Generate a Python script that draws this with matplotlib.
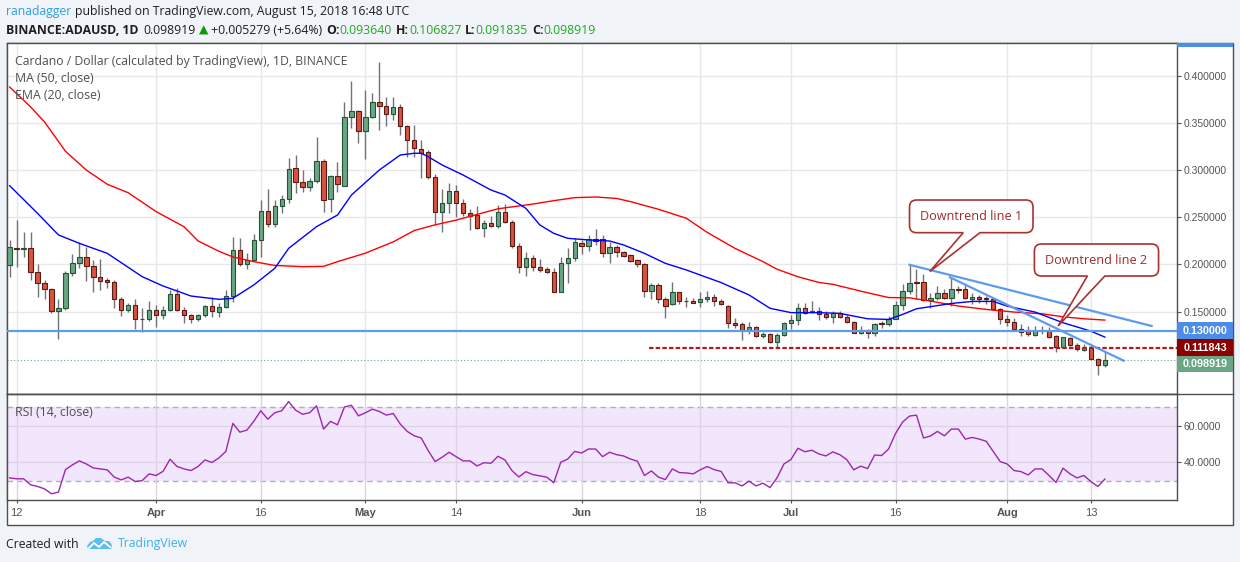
import matplotlib
matplotlib.use("Agg")
import matplotlib.pyplot as plt
import matplotlib.dates as mdates
from matplotlib.patches import Rectangle, PathPatch, Polygon
from matplotlib.path import Path
from matplotlib.lines import Line2D
from matplotlib.transforms import IdentityTransform
import numpy as np
import pandas as pd

plt.rcParams['font.family'] = ['Open Sans', 'DejaVu Sans']

W, H = 1240, 562

# BINANCE:ADAUSD daily candles, 2018-03-11 .. 2018-08-15
dates = pd.date_range("2018-03-11", "2018-08-15", freq="D")
opens = [0.1998, 0.2175, 0.2168, 0.2171, 0.1917, 0.1801, 0.1737, 0.1504, 0.1536, 0.1906,
         0.2012, 0.2076, 0.1981, 0.1864, 0.1836, 0.1811, 0.1631, 0.1518, 0.1568, 0.1419,
         0.1419, 0.1515, 0.1462, 0.1518, 0.1684, 0.1518, 0.1462, 0.1419, 0.1462, 0.1557,
         0.1501, 0.1550, 0.1666, 0.2154, 0.2002, 0.2048, 0.2260, 0.2567, 0.2426, 0.2620,
         0.2694, 0.3019, 0.2870, 0.2817, 0.2885, 0.3096, 0.2690, 0.2938, 0.2835, 0.3559,
         0.3623, 0.3411, 0.3559, 0.3718, 0.3679, 0.3591, 0.3665, 0.3467, 0.3315, 0.3224,
         0.3188, 0.2924, 0.2560, 0.2648, 0.2775, 0.2655, 0.2542, 0.2524, 0.2390, 0.2436,
         0.2412, 0.2553, 0.2454, 0.2200, 0.1977, 0.2065, 0.1970, 0.1949, 0.1917, 0.1712,
         0.2012, 0.2065, 0.2228, 0.2200, 0.2267, 0.2267, 0.2118, 0.2182, 0.2136, 0.2097,
         0.2044, 0.2002, 0.1723, 0.1780, 0.1631, 0.1578, 0.1705, 0.1611, 0.1613, 0.1599,
         0.1631, 0.1659, 0.1613, 0.1564, 0.1377, 0.1366, 0.1306, 0.1341, 0.1243, 0.1260,
         0.1176, 0.1250, 0.1377, 0.1412, 0.1536, 0.1497, 0.1511, 0.1471, 0.1446, 0.1482,
         0.1446, 0.1390, 0.1277, 0.1308, 0.1270, 0.1379, 0.1365, 0.1425, 0.1566, 0.1718,
         0.1817, 0.1817, 0.1623, 0.1644, 0.1693, 0.1647, 0.1736, 0.1736, 0.1637, 0.1658,
         0.1647, 0.1630, 0.1531, 0.1418, 0.1390, 0.1312, 0.1298, 0.1255, 0.1294, 0.1298,
         0.1241, 0.1128, 0.1217, 0.1146, 0.1097, 0.1118, 0.1001, 0.09364]
highs = [0.2260, 0.2471, 0.2341, 0.2341, 0.2005, 0.1836, 0.1748, 0.1635, 0.1935, 0.2108,
         0.2242, 0.2189, 0.2048, 0.2055, 0.1854, 0.1836, 0.1652, 0.1589, 0.1635, 0.1536,
         0.1610, 0.1571, 0.1561, 0.1730, 0.1755, 0.1554, 0.1476, 0.1476, 0.1571, 0.1659,
         0.1596, 0.1730, 0.2288, 0.2277, 0.2118, 0.2323, 0.2683, 0.2796, 0.2683, 0.2736,
         0.3125, 0.3160, 0.3001, 0.2913, 0.3347, 0.3114, 0.2948, 0.3082, 0.3718, 0.3947,
         0.3637, 0.3848, 0.3813, 0.4142, 0.3778, 0.3778, 0.3700, 0.3478, 0.3478, 0.3319,
         0.3213, 0.2955, 0.2800, 0.2860, 0.2842, 0.2690, 0.2585, 0.2620, 0.2471, 0.2514,
         0.2630, 0.2641, 0.2471, 0.2224, 0.2133, 0.2101, 0.2055, 0.1977, 0.1959, 0.2083,
         0.2171, 0.2284, 0.2260, 0.2313, 0.2376, 0.2313, 0.2242, 0.2207, 0.2147, 0.2111,
         0.2055, 0.2012, 0.1808, 0.1801, 0.1659, 0.1818, 0.1705, 0.1659, 0.1642, 0.1705,
         0.1719, 0.1684, 0.1638, 0.1571, 0.1430, 0.1395, 0.1395, 0.1349, 0.1289, 0.1271,
         0.1278, 0.1388, 0.1465, 0.1589, 0.1596, 0.1617, 0.1550, 0.1506, 0.1503, 0.1503,
         0.1460, 0.1400, 0.1347, 0.1319, 0.1383, 0.1400, 0.1453, 0.1612, 0.1796, 0.1997,
         0.1948, 0.1895, 0.1700, 0.1771, 0.1736, 0.1870, 0.1771, 0.1796, 0.1700, 0.1672,
         0.1665, 0.1647, 0.1541, 0.1460, 0.1436, 0.1365, 0.1347, 0.1347, 0.1347, 0.1343,
         0.1248, 0.1227, 0.1231, 0.1171, 0.1153, 0.1153, 0.1012, 0.106827]
lows = [0.1871, 0.1977, 0.2083, 0.1836, 0.1659, 0.1631, 0.1483, 0.1207, 0.1518, 0.1878,
        0.1959, 0.1829, 0.1705, 0.1730, 0.1755, 0.1536, 0.1455, 0.1497, 0.1313, 0.1289,
        0.1405, 0.1341, 0.1419, 0.1511, 0.1511, 0.1377, 0.1377, 0.1405, 0.1448, 0.1440,
        0.1448, 0.1536, 0.1606, 0.1984, 0.1952, 0.2037, 0.2083, 0.2401, 0.2401, 0.2542,
        0.2648, 0.2754, 0.2768, 0.2782, 0.2860, 0.2560, 0.2560, 0.2768, 0.2835, 0.3443,
        0.3291, 0.3114, 0.3555, 0.3425, 0.3467, 0.3531, 0.3368, 0.3142, 0.3142, 0.2913,
        0.2909, 0.2419, 0.2348, 0.2549, 0.2507, 0.2517, 0.2366, 0.2373, 0.2295, 0.2401,
        0.2390, 0.2436, 0.2178, 0.1906, 0.1878, 0.1935, 0.1924, 0.1906, 0.1712, 0.1712,
        0.1808, 0.2041, 0.2111, 0.2147, 0.2207, 0.2083, 0.2019, 0.2083, 0.2076, 0.2030,
        0.1977, 0.1659, 0.1631, 0.1589, 0.1430, 0.1571, 0.1578, 0.1546, 0.1603, 0.1546,
        0.1606, 0.1564, 0.1568, 0.1324, 0.1324, 0.1200, 0.1264, 0.1236, 0.1218, 0.1165,
        0.1130, 0.1243, 0.1313, 0.1359, 0.1476, 0.1483, 0.1412, 0.1418, 0.1383, 0.1436,
        0.1383, 0.1270, 0.1259, 0.1224, 0.1241, 0.1330, 0.1347, 0.1418, 0.1517, 0.1683,
        0.1630, 0.1612, 0.1541, 0.1619, 0.1630, 0.1559, 0.1700, 0.1630, 0.1577, 0.1594,
        0.1577, 0.1517, 0.1365, 0.1347, 0.1294, 0.1241, 0.1241, 0.1241, 0.1259, 0.1224,
        0.1072, 0.1118, 0.1135, 0.1083, 0.1086, 0.0994, 0.0828, 0.091835]
closes = [0.2182, 0.2168, 0.2171, 0.1917, 0.1801, 0.1737, 0.1504, 0.1536, 0.1906, 0.2012,
          0.2080, 0.1981, 0.1864, 0.1829, 0.1811, 0.1631, 0.1518, 0.1568, 0.1419, 0.1420,
          0.1515, 0.1462, 0.1518, 0.1684, 0.1518, 0.1462, 0.1419, 0.1462, 0.1557, 0.1508,
          0.1550, 0.1666, 0.2154, 0.2002, 0.2048, 0.2260, 0.2567, 0.2426, 0.2620, 0.2694,
          0.3012, 0.2870, 0.2817, 0.2885, 0.3096, 0.2683, 0.2938, 0.2853, 0.3566, 0.3623,
          0.3411, 0.3559, 0.3718, 0.3679, 0.3591, 0.3665, 0.3467, 0.3315, 0.3231, 0.3185,
          0.2924, 0.2560, 0.2648, 0.2775, 0.2655, 0.2542, 0.2517, 0.2390, 0.2436, 0.2412,
          0.2553, 0.2454, 0.2200, 0.1977, 0.2065, 0.1977, 0.1942, 0.1917, 0.1712, 0.2012,
          0.2065, 0.2235, 0.2200, 0.2267, 0.2253, 0.2118, 0.2182, 0.2136, 0.2094, 0.2041,
          0.2002, 0.1723, 0.1780, 0.1631, 0.1564, 0.1705, 0.1613, 0.1614, 0.1596, 0.1631,
          0.1659, 0.1610, 0.1578, 0.1377, 0.1359, 0.1306, 0.1341, 0.1243, 0.1260, 0.1176,
          0.1250, 0.1377, 0.1412, 0.1536, 0.1483, 0.1508, 0.1476, 0.1446, 0.1482, 0.1446,
          0.1390, 0.1277, 0.1308, 0.1270, 0.1368, 0.1365, 0.1425, 0.1566, 0.1718, 0.1806,
          0.1806, 0.1623, 0.1644, 0.1693, 0.1647, 0.1736, 0.1733, 0.1647, 0.1658, 0.1637,
          0.1630, 0.1531, 0.1418, 0.1393, 0.1312, 0.1287, 0.1266, 0.1298, 0.1296, 0.1234,
          0.1125, 0.1227, 0.1146, 0.1100, 0.1118, 0.1001, 0.0936, 0.098919]

# MA(50) and EMA(20) at some days (index into dates)
ma50_idx = [0, 3, 5, 8, 11, 14, 17, 21, 25, 27, 30, 32, 35, 38, 42, 45, 47, 51, 55, 58,
            61, 64, 67, 70, 73, 75, 78, 81, 84, 87, 89, 93, 97, 100, 104, 108, 110, 113,
            116, 118, 123, 126, 129, 132, 136, 140, 144, 148, 151, 154, 157]
ma50_val = [0.388, 0.367, 0.351, 0.320, 0.300, 0.285, 0.276, 0.256, 0.240, 0.225, 0.214,
            0.208, 0.203, 0.199, 0.1977, 0.198, 0.203, 0.212, 0.224, 0.236, 0.242, 0.247,
            0.253, 0.259, 0.262, 0.264, 0.2676, 0.2708, 0.2715, 0.270, 0.2666, 0.2585,
            0.249, 0.234, 0.217, 0.203, 0.195, 0.187, 0.181, 0.179, 0.170, 0.165, 0.1647,
            0.1612, 0.156, 0.1524, 0.1496, 0.1478, 0.1446, 0.1425, 0.1411]
ema20_idx = [0, 4, 7, 10, 14, 19, 22, 26, 30, 32, 35, 38, 40, 44, 47, 49, 53, 56, 58, 59,
             60, 62, 65, 69, 71, 74, 76, 78, 80, 83, 86, 88, 91, 94, 97, 102, 106, 109,
             112, 116, 119, 123, 126, 128, 130, 135, 138, 141, 143, 147, 151, 155, 157]
ema20_val = [0.2835, 0.2542, 0.2313, 0.2224, 0.2118, 0.1871, 0.1772, 0.1666, 0.1631, 0.1642,
             0.1783, 0.1959, 0.2171, 0.2401, 0.2524, 0.2736, 0.3001, 0.3160, 0.3178, 0.3178,
             0.3142, 0.3054, 0.2948, 0.2789, 0.2736, 0.2595, 0.2419, 0.2330, 0.2277, 0.2260,
             0.2249, 0.2207, 0.2118, 0.2012, 0.1942, 0.1808, 0.1677, 0.1536, 0.1490, 0.1490,
             0.1482, 0.1425, 0.1418, 0.1471, 0.1531, 0.1587, 0.1609, 0.1609, 0.1559, 0.1496,
             0.1383, 0.1294, 0.1231]

# RSI(14) per candle
rsi = [31.5, 31.0, 31.0, 27.7, 26.8, 25.5, 22.8, 23.7, 36.0, 38.6, 40.8, 39.1, 36.9, 36.4,
       35.9, 31.9, 30.4, 31.9, 29.5, 30.0, 33.7, 32.8, 35.1, 41.7, 37.7, 36.4, 35.5, 37.7,
       41.3, 39.9, 42.4, 46.0, 61.3, 56.5, 57.6, 62.4, 68.2, 63.6, 67.1, 68.2, 73.2, 68.5,
       66.3, 67.1, 70.9, 58.2, 62.4, 60.5, 70.3, 71.2, 65.4, 67.1, 69.1, 67.8, 65.8, 66.7,
       60.9, 56.9, 54.5, 53.3, 46.4, 40.4, 42.8, 45.5, 43.1, 40.8, 40.8, 38.0, 39.8, 39.5,
       43.3, 41.3, 35.5, 32.0, 34.9, 33.3, 32.6, 31.9, 28.8, 40.0, 41.8, 46.0, 45.1, 47.3,
       47.3, 43.1, 45.5, 44.2, 43.5, 41.8, 40.6, 32.8, 35.3, 31.9, 30.6, 36.4, 34.4, 34.2,
       33.7, 35.9, 37.7, 36.0, 35.0, 28.8, 28.8, 27.1, 29.7, 27.1, 28.6, 26.2, 31.5, 39.1,
       41.5, 47.7, 45.8, 46.6, 44.6, 43.5, 45.7, 44.2, 41.5, 35.9, 37.9, 36.6, 44.0, 43.7,
       47.3, 55.8, 62.0, 65.3, 65.8, 53.3, 54.4, 56.9, 54.5, 58.2, 58.2, 52.7, 53.6, 52.7,
       51.5, 46.0, 40.4, 39.1, 35.5, 34.9, 33.1, 36.4, 36.4, 32.8, 29.0, 36.8, 33.7, 31.5,
       32.8, 29.5, 26.8, 30.8]

tick_dates = ["2018-03-12", "2018-04-01", "2018-04-16", "2018-05-01", "2018-05-14",
              "2018-06-01", "2018-06-18", "2018-07-01", "2018-07-16", "2018-08-01", "2018-08-13"]
tick_labels = ["12", "Apr", "16", "May", "14", "Jun", "18", "Jul", "16", "Aug", "13"]
price_ticks = [0.15, 0.20, 0.25, 0.30, 0.35, 0.40]

support = 0.13
level = 0.111843
last_price = 0.098919

# drawings, in days from 2018-03-12
level_start = 90.7
trend1_days, trend1_price = [128.0, 162.7], [0.1997, 0.1349]
trend2_days, trend2_price = [133.8, 158.7], [0.1864, 0.0981]
callouts = [
    # text, (left, right, bottom, top), tail base (left, right), tail tip (day, price)
    ("Downtrend line 1", (128.0, 145.7, 0.2337, 0.2683), (135.7, 138.1), (130.9, 0.1925)),
    ("Downtrend line 2", (145.9, 163.7, 0.1878, 0.2217), (153.5, 156.0), (149.3, 0.1349)),
]

UP, UP_EDGE = '#6ba583', '#225437'
DN, DN_EDGE = '#d75442', '#5b1a13'
FRAME = '#4e4e4e'
AXTXT = '#555555'
LINEBLUE = '#5d9ceb'


def fbox(x0, y0, x1, y1):
    return [x0 / W, 1 - y1 / H, (x1 - x0) / W, (y1 - y0) / H]


fig = plt.figure(figsize=(W / 100, H / 100), dpi=100, facecolor='#f0f3f7')
fig.patches.append(Rectangle((6.7 / W, 1 - 525 / H), (1233 - 6.7) / W, (525 - 43.3) / H,
                             transform=fig.transFigure, facecolor='white',
                             edgecolor=FRAME, lw=1, zorder=-5))

ax = fig.add_axes(fbox(6.7, 43.3, 1176.7, 394.3))
ax_rsi = fig.add_axes(fbox(6.7, 394.3, 1176.7, 500))

t0 = mdates.date2num(pd.Timestamp("2018-03-12"))
x = mdates.date2num(dates)
xlim = (t0 - 1.42, t0 + 166.3)
tx = mdates.date2num(pd.to_datetime(tick_dates))

# ---- price pane
o, h, l, c = map(np.array, (opens, highs, lows, closes))
up = c >= o
lo = np.minimum(o, c)
bh = np.maximum(np.abs(c - o), 0.0005)
ax.vlines(x, l, h, color='#737375', lw=1, zorder=2)
ax.bar(x[up], bh[up], bottom=lo[up], width=0.62, color=UP, edgecolor=UP_EDGE, lw=0.8, zorder=3)
ax.bar(x[~up], bh[~up], bottom=lo[~up], width=0.62, color=DN, edgecolor=DN_EDGE, lw=0.8, zorder=3)

ax.plot(x[ma50_idx], ma50_val, color='#ff0000', lw=1, zorder=4)
ax.plot(x[ema20_idx], ema20_val, color='#0000ff', lw=1, zorder=4)

ax.axhline(support, color=LINEBLUE, lw=1.6, zorder=5)
ax.axhline(last_price, color=UP, lw=0.8, ls=(0, (1, 2)), zorder=1)
ax.hlines(level, t0 + level_start, xlim[1], color='#b01c1c', lw=1.6, ls=(0, (2, 1)), zorder=5)
ax.plot(t0 + np.array(trend1_days), trend1_price, color=LINEBLUE, lw=1.6, zorder=6)
ax.plot(t0 + np.array(trend2_days), trend2_price, color=LINEBLUE, lw=1.6, zorder=6)

ax.set_xlim(xlim)
ax.set_ylim(0.0625, 0.4343)
ax.set_axisbelow(True)
ax.grid(True, color='#e8e8e8', lw=1)
ax.set_xticks(tx)
ax.tick_params(axis='x', length=0, labelbottom=False)
ax.yaxis.tick_right()
ax.set_yticks(price_ticks, labels=[f"{v:.6f}" for v in price_ticks],
              fontfamily='Liberation Sans', fontsize=7.5, color=AXTXT)
ax.tick_params(axis='y', direction='out', length=3, width=0.8, color=AXTXT, pad=2)
for s in ax.spines.values():
    s.set_color(FRAME)
    s.set_linewidth(1)

# ---- RSI pane
ax_rsi.axhspan(30, 70, color='#f2e6fc', lw=0, zorder=0)
ax_rsi.axhline(70, color='#b8a9c4', lw=1, ls=(0, (4, 3)), zorder=1)
ax_rsi.axhline(30, color='#b8a9c4', lw=1, ls=(0, (4, 3)), zorder=1)
ax_rsi.plot(x, rsi, color='#9c27b0', lw=1, zorder=3)
ax_rsi.set_xlim(xlim)
ax_rsi.set_ylim(19.4, 77.2)
ax_rsi.grid(True, color='#dcd3e3', lw=1, zorder=0.5)
ax_rsi.yaxis.tick_right()
ax_rsi.set_yticks([40, 60], labels=["40.0000", "60.0000"],
                  fontfamily='Liberation Sans', fontsize=7.5, color=AXTXT)
ax_rsi.tick_params(axis='y', direction='out', length=3, width=0.8, color=AXTXT, pad=2)
ax_rsi.set_xticks(tx, labels=tick_labels, fontfamily='Liberation Sans', fontsize=8, color=AXTXT)
ax_rsi.tick_params(axis='x', direction='out', length=2.5, width=0.8, color=AXTXT, pad=3)
for lab in ax_rsi.get_xticklabels():
    if lab.get_text().isalpha():
        lab.set_fontweight('bold')
for s in ax_rsi.spines.values():
    s.set_color(FRAME)
    s.set_linewidth(1)

# separator under the price pane runs across the price scale too
fig.add_artist(Line2D([6.7 / W, 1233 / W], [1 - 394.3 / H] * 2, transform=fig.transFigure,
                      color=FRAME, lw=1))
fig.patches.append(Rectangle((1177.2 / W, 1 - 47.3 / H), (1232.5 - 1177.2) / W, 4 / H,
                             transform=fig.transFigure, color='#4a8fe6', lw=0))

# ---- price labels on the right scale
def px(axis, price):
    return axis.transData.transform((xlim[0], price))[1]

tags = [(support, '#4d8de6'), (level, '#8b0000'), (last_price, '#6aa584')]
tag_h = 0.0175
prev = None
for val, col in tags:
    yc = val if prev is None else min(val, prev - tag_h)
    prev = yc
    y0, y1 = px(ax, yc - tag_h / 2), px(ax, yc + tag_h / 2)
    fig.add_artist(Rectangle((1176.7, y0), 1232.5 - 1176.7, y1 - y0, transform=IdentityTransform(),
                             color=col, lw=0, zorder=10))
    fig.text(1205 / W, (y0 + y1) / 2 / H, f"{val:.6f}", color='white', fontweight='bold',
             fontfamily='Liberation Sans', fontsize=7.8, ha='center', va='center', zorder=11)

# ---- callouts
for label, (bl, br, bb, bt), (b0, b1), (td, tp) in callouts:
    T = ax.transData
    x0, y0 = T.transform((t0 + bl, bb))
    x1, y1 = T.transform((t0 + br, bt))
    p0 = T.transform((t0 + b0, bb))[0]
    p1 = T.transform((t0 + b1, bb))[0]
    qx, qy = T.transform((t0 + td, tp))
    r = 7
    verts = [(p1, y0), (x1 - r, y0), (x1, y0), (x1, y0 + r), (x1, y1 - r), (x1, y1), (x1 - r, y1),
             (x0 + r, y1), (x0, y1), (x0, y1 - r), (x0, y0 + r), (x0, y0), (x0 + r, y0),
             (p0, y0), (qx, qy), (p1, y0)]
    codes = [Path.MOVETO, Path.LINETO, Path.CURVE3, Path.CURVE3, Path.LINETO, Path.CURVE3,
             Path.CURVE3, Path.LINETO, Path.CURVE3, Path.CURVE3, Path.LINETO, Path.CURVE3,
             Path.CURVE3, Path.LINETO, Path.LINETO, Path.CLOSEPOLY]
    fig.add_artist(PathPatch(Path(verts, codes), transform=IdentityTransform(),
                             facecolor='white', edgecolor='#a83232', lw=1.2, zorder=12))
    fig.text((x0 + x1) / 2 / W, (y0 + y1) / 2 / H, label, color='#9f2a2a', fontsize=9.1,
             ha='center', va='center', zorder=13)

# ---- texts
rend = fig.canvas.get_renderer()


def runs(xp, yp, parts, size=8.8):
    for s, col, weight, gap in parts:
        t = fig.text(xp / W, 1 - yp / H, s, color=col, fontsize=size, fontweight=weight,
                     ha='left', va='center')
        xp += t.get_window_extent(rend).width + gap


DARK, GREEN = '#1e1e1e', '#22a822'
runs(6, 12, [("ranadagger", '#2e9fe0', 'normal', 4),
             ("published on TradingView.com, August 15, 2018 16:48 UTC", DARK, 'normal', 0)])
runs(6, 30, [("BINANCE:ADAUSD, 1D", DARK, 'bold', 5),
             ("0.098919", DARK, 'normal', 3),
             ("\u25B2", '#0a9b0a', 'normal', 3),
             ("+0.005279 (+5.64%)", DARK, 'normal', 4),
             ("O:", DARK, 'bold', 0), ("0.093640", GREEN, 'normal', 4),
             ("H:", DARK, 'bold', 0), ("0.106827", GREEN, 'normal', 4),
             ("L:", DARK, 'bold', 0), ("0.091835", GREEN, 'normal', 4),
             ("C:", DARK, 'bold', 0), ("0.098919", GREEN, 'normal', 0)])

LEG = '#4f4f4f'
fig.text(15 / W, 1 - 61 / H, "Cardano / Dollar (calculated by TradingView), 1D, BINANCE",
         color=LEG, fontsize=8.8, va='center')
fig.text(15 / W, 1 - 78 / H, "MA (50, close)", color=LEG, fontsize=8.8, va='center')
fig.text(15 / W, 1 - 95 / H, "EMA (20, close)", color=LEG, fontsize=8.8, va='center')
fig.text(15 / W, 1 - 412 / H, "RSI (14, close)", color=LEG, fontsize=8.8, va='center')

runs(6, 544, [("Created with", DARK, 'normal', 38)])
logo = [(88, 549), (111, 549), (112, 545), (109, 541), (105, 541), (101, 538), (96, 538),
        (93, 541), (90, 542), (87, 546)]
fig.add_artist(Polygon([(a, H - b) for a, b in logo], closed=True, transform=IdentityTransform(),
                       color='#5bbfe9', lw=0))
fig.add_artist(Line2D([89, 94, 99, 104, 110], [H - 548, H - 543, H - 547, H - 542, H - 547],
                      transform=IdentityTransform(), color='white', lw=1.3))
fig.text(118 / W, 1 - 544 / H, "TradingView", color='#3eb0e5', fontsize=8.8, va='center')

fig.savefig("out.png", dpi=100, facecolor=fig.get_facecolor())
